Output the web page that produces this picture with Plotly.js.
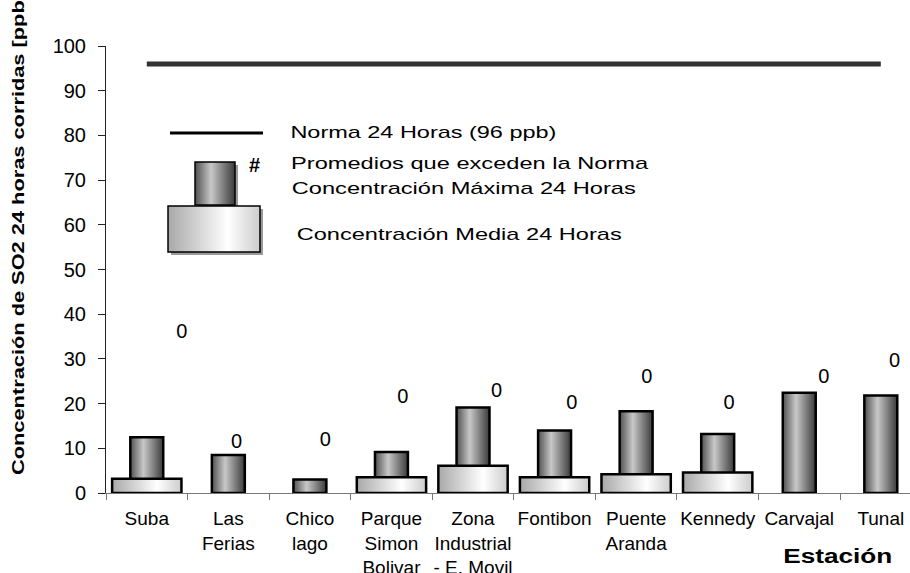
<!DOCTYPE html>
<html><head><meta charset="utf-8">
<script src="https://cdn.plot.ly/plotly-3.0.1.min.js"></script>
<style>html,body{margin:0;padding:0;background:#fff;} #chart{width:910px;height:573px;}</style>
</head><body><div id="chart"></div>
<script>
// ---- data ----
const stations = ['Suba','Las Ferias','Chico lago','Parque Simon Bolivar','Zona Industrial - E. Movil','Fontibon','Puente Aranda','Kennedy','Carvajal','Tunal'];
const stationLabels = ['Suba','Las<br>Ferias','Chico<br>lago','Parque<br>Simon<br>Bolivar','Zona<br>Industrial<br>- E. Movil','Fontibon','Puente<br>Aranda','Kennedy','Carvajal','Tunal'];
const maxConc  = [12.5, 8.5, 3.0, 9.2, 19.1, 14.0, 18.3, 13.2, 22.4, 21.8];
const meanConc = [3.2, null, null, 3.5, 6.1, 3.5, 4.2, 4.6, null, null];
const normaValue = [96, 96, 96, 96, 96, 96, 96, 96, 96, 96];
const exceedCount = ['0','0','0','0','0','0','0','0','0','0'];
const exceedLabelX = [0.43, 1.10, 2.19, 3.14, 4.29, 5.21, 6.13, 7.14, 8.30, 9.17];
const exceedLabelY = [35.9, 11.1, 11.6, 21.3, 22.5, 19.8, 25.8, 19.8, 25.8, 29.4];
const yTicks = [0,10,20,30,40,50,60,70,80,90,100];

// ---- layout helpers (pixel -> paper) ----
const L = 106, R = 910, T = 46, B = 493;
const px = p => (p - L) / (R - L);
const py = p => (B - p) / (B - T);
const FONT = 'Liberation Sans, Arial, sans-serif';
const xRange = [-0.5, 9.358];

const traces = [
  {type:'bar', x: stations, y: maxConc, width: 0.404, name:'max',
   marker:{color:'#888', line:{color:'#000', width:2.5}}},
  {type:'bar', x: stations, y: meanConc, width: 0.85, name:'mean',
   marker:{color:'#ddd', line:{color:'#000', width:2.5}}},
  {type:'scatter', mode:'lines', x: stations, y: normaValue, name:'norma',
   line:{color:'#333', width:5}},
  {type:'scatter', mode:'text', x: exceedLabelX, y: exceedLabelY, text: exceedCount,
   xaxis:'x2', textposition:'middle center', textfont:{family:FONT, size:20, color:'#000'}}
];

const legendTexts = [
  {text:'Norma 24 Horas (96 ppb)', cx:423, cy:132, w:266, size:17},
  {text:'Promedios que exceden la Norma', cx:470, cy:163, w:357, size:17},
  {text:'Concentración Máxima 24 Horas', cx:464, cy:188, w:344, size:17},
  {text:'Concentración Media 24 Horas', cx:459, cy:234, w:325, size:17}
];

const annotations = [
  {text:'Concentración de SO2 24 horas corridas [ppb]', xref:'paper', yref:'paper',
   x:px(18), y:py(234), xanchor:'center', yanchor:'middle', textangle:-90, showarrow:false,
   font:{family:FONT, size:17, weight:'bold', color:'#000'}},
  {text:'Estación', xref:'paper', yref:'paper', x:px(837), y:py(556), xanchor:'center', yanchor:'middle', showarrow:false,
   font:{family:FONT, size:20, weight:'bold', color:'#000'}},
  {text:'#', xref:'paper', yref:'paper', x:px(254), y:py(165), xanchor:'center', yanchor:'middle', showarrow:false,
   font:{family:FONT, size:20, weight:'bold', color:'#000'}}
];
legendTexts.forEach(t => annotations.push({text:t.text, xref:'paper', yref:'paper',
  x:px(t.cx), y:py(t.cy), xanchor:'center', yanchor:'middle', showarrow:false,
  font:{family:FONT, size:t.size, color:'#000'}}));
const stretch = {0:482, 1:109};
legendTexts.forEach((t,i) => { stretch[3+i] = t.w; });

const rect = (x0,y0,x1,y1,fill,lw) => ({type:'rect', xref:'paper', yref:'paper',
  x0:px(x0), x1:px(x1), y0:py(y1), y1:py(y0), fillcolor:fill,
  line:{color:'#000', width:lw}});
const shapes = [
  {type:'line', xref:'paper', yref:'paper', x0:px(170), x1:px(263), y0:py(133), y1:py(133),
   line:{color:'#000', width:3}},
  Object.assign(rect(198,165,238,208,'#9a9a9a',0), {line:{width:0}}),
  rect(195,162,235,205,'#888',1.5),
  Object.assign(rect(171,209,263,255,'#9a9a9a',0), {line:{width:0}}),
  rect(168,206,260,252,'#ddd',1.5)
];

const layout = {
  width:910, height:573,
  margin:{l:L, r:910-R, t:T, b:573-B, pad:0},
  paper_bgcolor:'#fff', plot_bgcolor:'#fff',
  showlegend:false, barmode:'overlay',
  font:{family:FONT, color:'#000'},
  xaxis:{type:'category', range:xRange, tickson:'boundaries', ticks:'outside', ticklen:6,
    tickcolor:'#777', tickwidth:1, showline:true, linecolor:'#777', linewidth:1,
    showgrid:false, zeroline:false, tickvals:stations, ticktext:stationLabels, tickangle:0,
    tickfont:{family:FONT, size:19, color:'#000'}, ticklabelstandoff:8, fixedrange:true},
  xaxis2:{overlaying:'x', range:xRange, visible:false, type:'linear'},
  yaxis:{range:[0,100], tickvals:yTicks, ticks:'outside', ticklen:7, tickcolor:'#222',
    showline:true, linecolor:'#222', linewidth:1, showgrid:false, zeroline:false,
    tickfont:{family:FONT, size:20, color:'#000'}, ticklabelstandoff:8},
  annotations: annotations,
  shapes: shapes
};

Plotly.newPlot('chart', traces, layout, {staticPlot:true, displayModeBar:false}).then(() => {
  const NS = 'http://www.w3.org/2000/svg';
  const defs = document.querySelector('#chart .main-svg defs');
  function grad(id, stops) {
    const g = document.createElementNS(NS, 'linearGradient');
    g.setAttribute('id', id);
    g.setAttribute('x1','0'); g.setAttribute('y1','0'); g.setAttribute('x2','1'); g.setAttribute('y2','0');
    stops.forEach(s => {
      const st = document.createElementNS(NS, 'stop');
      st.setAttribute('offset', s[0]); st.setAttribute('stop-color', s[1]);
      g.appendChild(st);
    });
    defs.appendChild(g);
  }
  grad('gradMax', [['0','#505050'],['0.4','#c8c8c8'],['1','#3a3a3a']]);
  grad('gradMean', [['0','#a8a8a8'],['0.65','#ffffff'],['1','#cccccc']]);
  const barTraces = document.querySelectorAll('#chart .barlayer .trace');
  if (barTraces[0]) barTraces[0].querySelectorAll('path').forEach(p => p.style.fill = 'url(#gradMax)');
  if (barTraces[1]) barTraces[1].querySelectorAll('path').forEach(p => p.style.fill = 'url(#gradMean)');
  document.querySelectorAll('#chart .shapelayer path').forEach(p => {
    const i = p.getAttribute('data-index');
    if (i === '2') p.style.fill = 'url(#gradMax)';
    if (i === '4') p.style.fill = 'url(#gradMean)';
  });
  document.querySelectorAll('#chart g.annotation').forEach(g => {
    const i = g.getAttribute('data-index');
    if (stretch[i] !== undefined) {
      const t = g.querySelector('text.annotation-text');
      if (t) { t.setAttribute('textLength', stretch[i]); t.setAttribute('lengthAdjust', 'spacingAndGlyphs'); }
    }
  });
});
</script>
</body></html>
